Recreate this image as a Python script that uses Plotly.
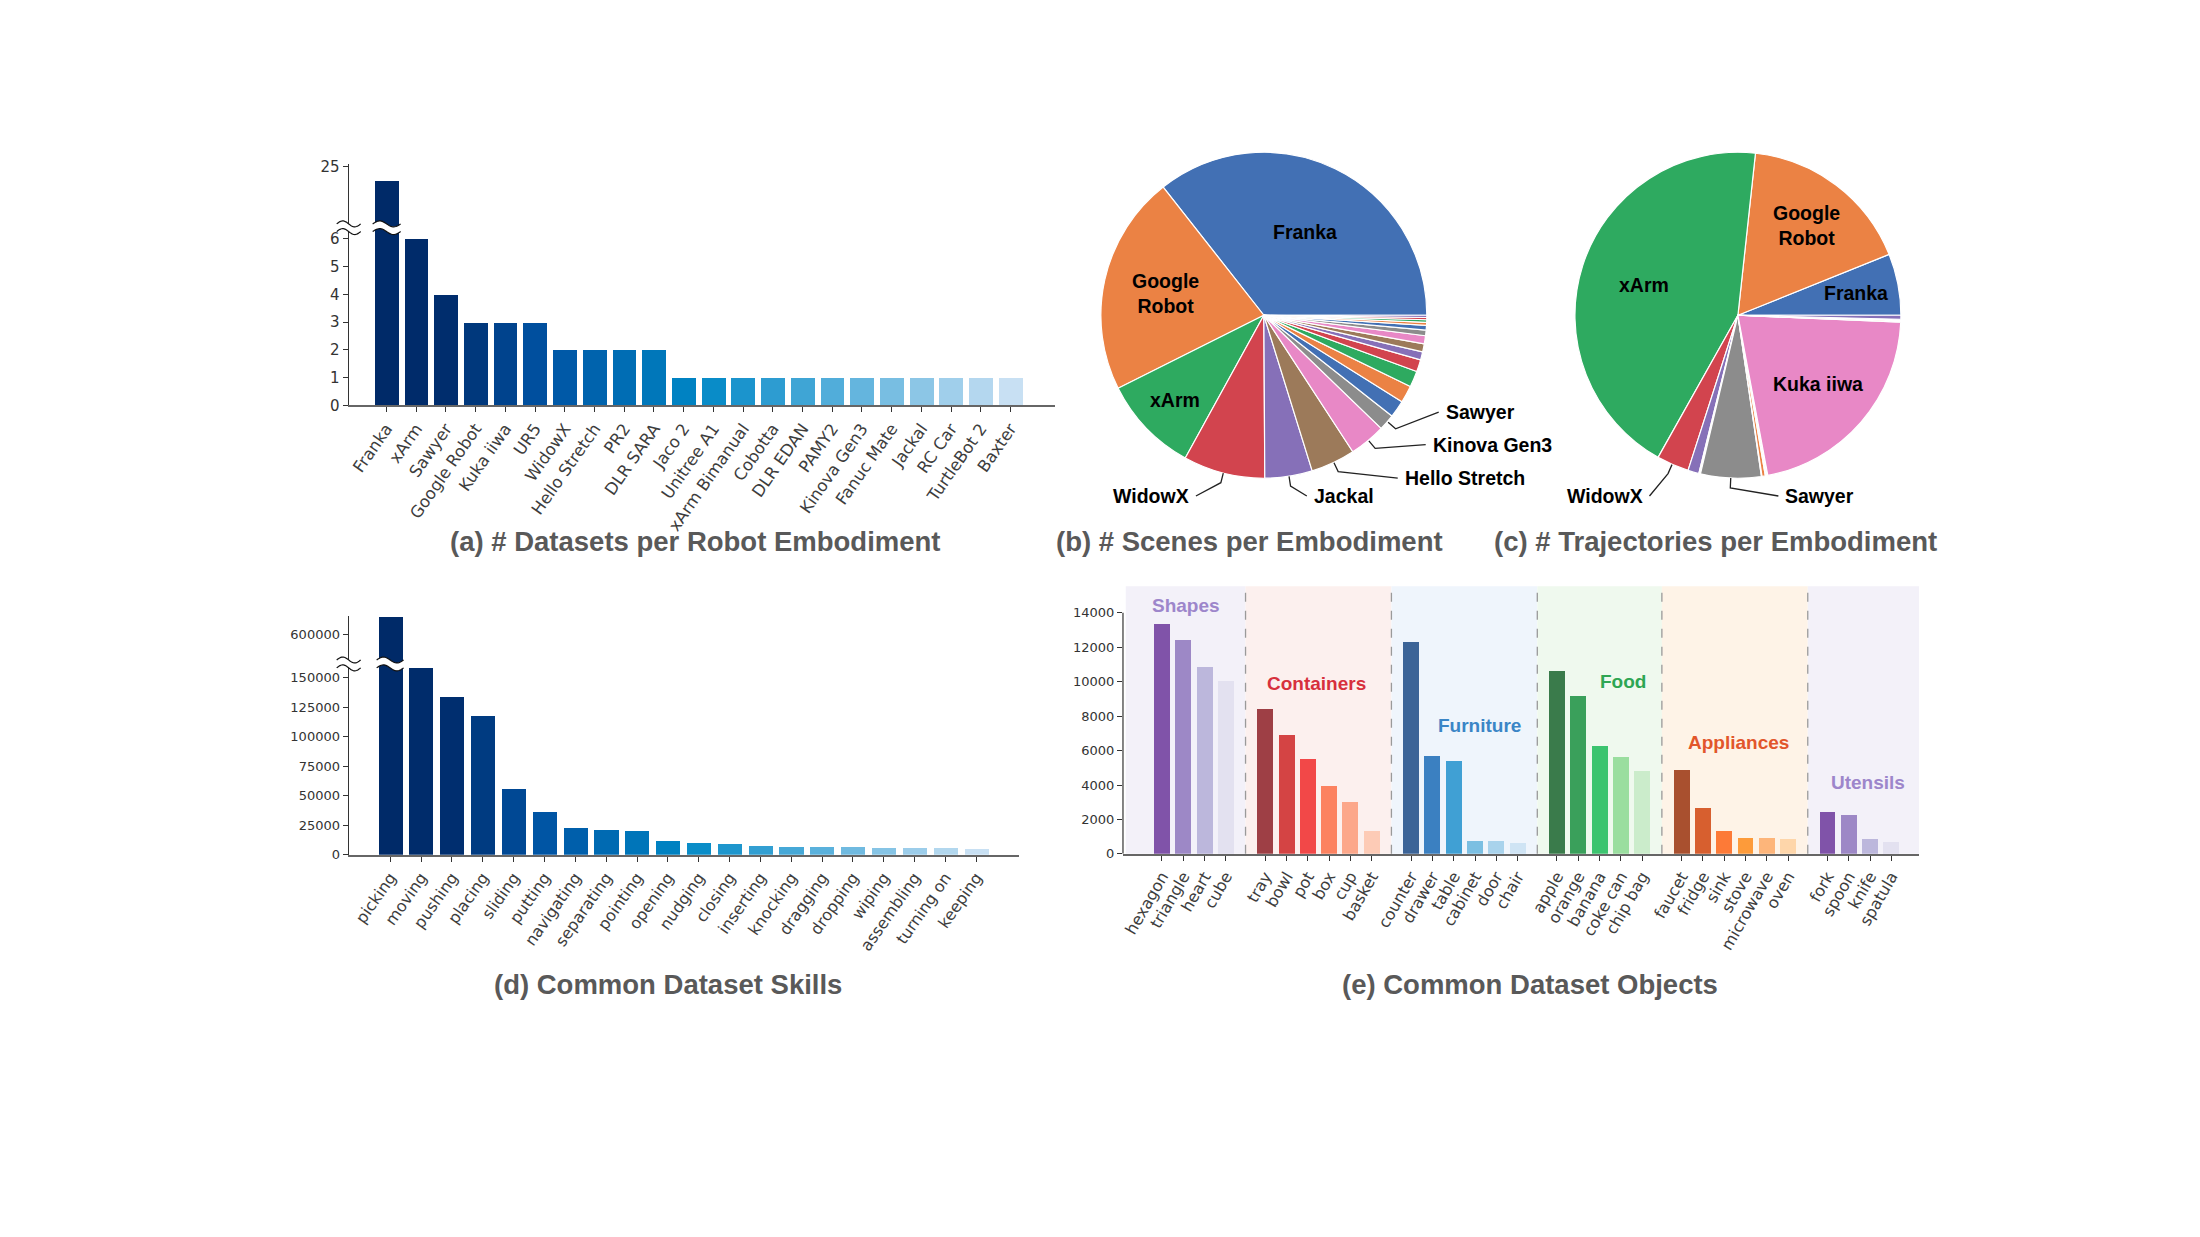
import numpy as np
import plotly.graph_objects as go

# target picture size, page body margin of the html page, figure size
W, H = 2200, 1237
OFF = 8
FW, FH = W - 2 * OFF, H - 2 * OFF

# ---------------------------------------------
# (a) number of datasets per robot embodiment
robots = ["Franka", "xArm", "Sawyer", "Google Robot", "Kuka iiwa", "UR5", "WidowX",
          "Hello Stretch", "PR2", "DLR SARA", "Jaco 2", "Unitree A1", "xArm Bimanual",
          "Cobotta", "DLR EDAN", "PAMY2", "Kinova Gen3", "Fanuc Mate", "Jackal",
          "RC Car", "TurtleBot 2", "Baxter"]
n_datasets = [24, 6, 4, 3, 3, 3, 2, 2, 2, 2, 1, 1, 1, 1, 1, 1, 1, 1, 1, 1, 1, 1]

# (b) scenes and (c) trajectories per embodiment, share in %, same order in both pies
pie_robots = ["Franka", "Google Robot", "xArm", "WidowX", "Jackal", "Hello Stretch",
              "Kinova Gen3", "Sawyer", "UR5", "PR2", "DLR SARA", "Jaco 2", "Unitree A1",
              "xArm Bimanual", "Kuka iiwa", "Cobotta", "DLR EDAN", "PAMY2", "Fanuc Mate",
              "RC Car", "TurtleBot 2"]
scene_share = [35.6, 21.8, 9.6, 8.1, 4.7, 4.4, 3.6, 1.6, 1.7, 1.7, 1.6, 1.2, 0.8,
               0.8, 0.8, 0.55, 0.47, 0.3, 0.25, 0.22, 0.22]
traj_share = [6.1, 17.2, 43.6, 3.2, 1.1, 0.08, 0.08, 6.0, 0.06, 0.33, 0.06, 0.06, 0.06,
              0.06, 21.4, 0.06, 0.06, 0.11, 0.03, 0.03, 0.39]

# (d) common skills
skills = ["picking", "moving", "pushing", "placing", "sliding", "putting", "navigating",
          "separating", "pointing", "opening", "nudging", "closing", "inserting",
          "knocking", "dragging", "dropping", "wiping", "assembling", "turning on", "keeping"]
skill_counts = [615000, 158000, 134000, 118000, 55800, 36500, 23100, 21500, 20000, 11700,
                10300, 9500, 7500, 6700, 6600, 6500, 5900, 5800, 5700, 5000]

# (e) common objects, by group
group_names = ["Shapes", "Containers", "Furniture", "Food", "Appliances", "Utensils"]
shape_objs = ["hexagon", "triangle", "heart", "cube"]
shape_counts = [13350, 12430, 10840, 10060]
container_objs = ["tray", "bowl", "pot", "box", "cup", "basket"]
container_counts = [8410, 6900, 5500, 3920, 3000, 1340]
furniture_objs = ["counter", "drawer", "table", "cabinet", "door", "chair"]
furniture_counts = [12280, 5680, 5370, 750, 750, 630]
food_objs = ["apple", "orange", "banana", "coke can", "chip bag"]
food_counts = [10600, 9180, 6270, 5620, 4780]
appliance_objs = ["faucet", "fridge", "sink", "stove", "microwave", "oven"]
appliance_counts = [4840, 2640, 1300, 920, 920, 860]
utensil_objs = ["fork", "spoon", "knife", "spatula"]
utensil_counts = [2450, 2220, 860, 670]

# ---------------------------------------------
# styles
BOLD = "Liberation Sans, Arial, sans-serif"
YTICK = dict(family="DejaVu Sans", size=13, color="#333333")
XTICK = dict(family="DejaVu Sans", size=16, color="#3d3d3d")
TITLE_COLOR = "#595959"

blues = [(0.0, "#002a68"), (0.1, "#002d6d"), (0.25, "#0052a2"), (0.45, "#007bbd"),
         (0.5, "#0088c6"), (0.75, "#5fb3dd"), (1.0, "#c8e0f3")]
pie_cycle = ["#4270b4", "#eb8244", "#2eaa60", "#d2444e", "#8670b8", "#9c7a5a",
             "#e888c6", "#8c8c8c"]
group_colors = [
    ["#8053a9", "#9d88c6", "#bcb7dc", "#e3e1f0"],
    ["#9e3f45", "#d44444", "#f24848", "#fc8260", "#fca78a", "#fdcbb6"],
    ["#3c6497", "#3b80c1", "#40a0d4", "#7bbfe2", "#a9d3ec", "#cfe4f4"],
    ["#3a7b4b", "#3aa05b", "#3cc46f", "#9ade9f", "#cbeccb"],
    ["#a9502f", "#d75f2f", "#fd7a37", "#fd9b3a", "#fdb57a", "#fed6aa"],
    ["#8053a9", "#9d88c6", "#bcb7dc", "#e3e1f0"],
]
group_bg = ["#f3f1f9", "#fcf0ee", "#eff5fc", "#eff9ee", "#fef3e7", "#f3f1f9"]
group_label_color = ["#9d86cb", "#d7303d", "#3a85c6", "#2ea653", "#e2562b", "#9d86cb"]
pie_text = {"Google Robot": "Google<br>Robot"}


def ramp(stops, n):
    pos = [s for s, _ in stops]
    rgb = np.array([[int(c[i:i + 2], 16) for i in (1, 3, 5)] for _, c in stops], float)
    t = np.linspace(0, 1, n)
    cols = np.stack([np.interp(t, pos, rgb[:, k]) for k in range(3)], axis=1)
    return [f"rgb({r:.0f},{g:.0f},{b:.0f})" for r, g, b in cols]


# window pixel -> paper coords
def px(x):
    return (x - OFF) / FW


def py(y):
    return 1 - (y - OFF) / FH


def paper(x, y):
    return px(x), py(y)


def pth(points, close=False):
    s = "M " + " L ".join("%.5f,%.5f" % paper(*pt) for pt in points)
    return s + (" Z" if close else "")


fig = go.Figure()
shapes = []
annotations = []

ax_common = dict(showgrid=False, zeroline=False, ticks="outside", ticklen=5,
                 tickwidth=1, tickcolor="#333333")
yline = dict(showline=True, linecolor="#333333", linewidth=1.2)
xline = dict(showline=True, linecolor="#666666", linewidth=2)


def label(x, y, text, font, xref="paper", yref="paper", xanchor="center"):
    annotations.append(dict(x=x, y=y, xref=xref, yref=yref, showarrow=False, text=text,
                            xanchor=xanchor, yanchor="middle", font=font))


# ---------------------------------------------
# (a) bar chart with broken y axis
col_a = ramp(blues, len(robots))
for xa, ya in (("x", "y"), ("x2", "y2")):
    fig.add_trace(go.Bar(x=robots, y=n_datasets, marker_color=col_a, marker_line_width=0,
                         width=0.8, xaxis=xa, yaxis=ya, hoverinfo="x+y"))

# (d) bar chart with broken y axis
col_d = ramp(blues, len(skills))
for xa, ya in (("x3", "y3"), ("x4", "y4")):
    fig.add_trace(go.Bar(x=skills, y=skill_counts, marker_color=col_d, marker_line_width=0,
                         width=0.78, xaxis=xa, yaxis=ya, hoverinfo="x+y"))

# (e) grouped object bars
groups = [(shape_objs, shape_counts), (container_objs, container_counts),
          (furniture_objs, furniture_counts), (food_objs, food_counts),
          (appliance_objs, appliance_counts), (utensil_objs, utensil_counts)]
GAP = 1.85
start = 0.0
all_x, all_lbl, group_x = [], [], []
for gi, (objs, counts) in enumerate(groups):
    gx = [start + j for j in range(len(objs))]
    group_x.append(gx)
    all_x += gx
    all_lbl += objs
    fig.add_trace(go.Bar(x=gx, y=counts, text=objs, marker_color=group_colors[gi],
                         marker_line_width=0, width=0.75, xaxis="x5", yaxis="y5",
                         hovertemplate="%{text}: %{y}<extra></extra>", textposition="none"))
    start = gx[-1] + GAP

E_RANGE = [-1.83, 35.56]
seps = [(group_x[i][-1] + group_x[i + 1][0]) / 2 for i in range(len(groups) - 1)]
edges = [-1.7] + seps + [E_RANGE[1]]
for gi in range(len(groups)):
    shapes.append(dict(type="rect", xref="x5", yref="y5 domain", x0=edges[gi], x1=edges[gi + 1],
                       y0=0, y1=1, fillcolor=group_bg[gi], line_width=0, layer="below"))
for s in seps:
    shapes.append(dict(type="line", xref="x5", yref="y5 domain", x0=s, x1=s, y0=0, y1=1,
                       line=dict(color="#9a9a9a", width=1.3, dash="dash")))
shapes.append(dict(type="line", xref="x5 domain", yref="y5", x0=0, x1=0, y0=0, y1=14000,
                   line=dict(color="#333333", width=1.2)))

group_label_pos = [(1.13, 14400), (7.28, 9900), (14.9, 7480), (21.67, 10040),
                   (27.06, 6460), (33.17, 4130)]
for gi, (gxp, gyp) in enumerate(group_label_pos):
    label(gxp, gyp, f"<b>{group_names[gi]}</b>",
          dict(family=BOLD, size=19, color=group_label_color[gi]), xref="x5", yref="y5")

# ---------------------------------------------
# (b), (c) pies
PIE_R = 165
pie_colors = [pie_cycle[i % len(pie_cycle)] for i in range(len(pie_robots))]
pies = [
    dict(vals=scene_share, cx=1263, cy=313,
         inside=[("Franka", 0.57), ("Google Robot", 0.61), ("xArm", 0.75)],
         outside=[("WidowX", 1190, 496, "right"), ("Jackal", 1311, 496, "left"),
                  ("Hello Stretch", 1402, 478, "left"), ("Kinova Gen3", 1430, 444, "left"),
                  ("Sawyer", 1443, 411, "left")]),
    dict(vals=traj_share, cx=1737.5, cy=313,
         inside=[("xArm", 0.6), ("Google Robot", 0.69), ("Franka", 0.73), ("Kuka iiwa", 0.64)],
         outside=[("WidowX", 1644, 496, "right"), ("Sawyer", 1783, 496, "left")]),
]
for p in pies:
    cx, cy = p["cx"], p["cy"]
    v = np.asarray(p["vals"], float)
    frac = v / v.sum()
    # counterclockwise pies: plotly puts the end of the first slice at `rotation`,
    # so shift it to make the first slice start at 3 o'clock
    rot = 90 - 360 * frac[0]
    fig.add_trace(go.Pie(labels=pie_robots, values=p["vals"], sort=False,
                         direction="counterclockwise", rotation=rot, textinfo="none",
                         marker=dict(colors=pie_colors, line=dict(color="white", width=1.2)),
                         domain=dict(x=[px(cx - PIE_R), px(cx + PIE_R)],
                                     y=[py(cy + PIE_R), py(cy - PIE_R)]),
                         hoverinfo="label+percent"))
    cum = np.cumsum(frac) * 360
    mids = cum - frac * 180
    mid_of = dict(zip(pie_robots, mids))

    for name, rf in p["inside"]:
        a = np.radians(mid_of[name])
        lx, ly = paper(cx + rf * PIE_R * np.cos(a), cy - rf * PIE_R * np.sin(a))
        label(lx, ly, "<b>" + pie_text.get(name, name) + "</b>",
              dict(family=BOLD, size=19.5, color="black"))
    for name, tx, ty, anchor in p["outside"]:
        a = np.radians(mid_of[name])
        p0 = (cx + PIE_R * np.cos(a), cy - PIE_R * np.sin(a))
        p1 = (cx + 1.06 * PIE_R * np.cos(a), cy - 1.06 * PIE_R * np.sin(a))
        p2 = (tx + (5 if anchor == "right" else -5), ty)
        shapes.append(dict(type="path", xref="paper", yref="paper", path=pth([p0, p1, p2]),
                           line=dict(color="#222222", width=1.3)))
        label(px(tx), py(ty), f"<b>{name}</b>", dict(family=BOLD, size=19.5, color="black"),
              xanchor=anchor)


# ---------------------------------------------
# axis break marks
def wave(x0, x1, yc, amp=3.0, n=30):
    xs = np.linspace(x0, x1, n)
    ys = yc - amp * np.sin(2 * np.pi * (xs - x0) / (x1 - x0))
    return list(zip(xs, ys))


def add_break(y_top, y_bot, segments):
    for sx0, sx1 in segments:
        up = wave(sx0, sx1, y_top)
        lo = wave(sx0, sx1, y_bot)
        shapes.append(dict(type="path", xref="paper", yref="paper", path=pth(up + lo[::-1], True),
                           fillcolor="white", line_width=0))
        for w in (up, lo):
            shapes.append(dict(type="path", xref="paper", yref="paper", path=pth(w),
                               line=dict(color="#111111", width=1.2)))


add_break(220.5, 228.3, [(335, 359), (371, 399)])
add_break(662, 670, [(335, 359), (375, 402)])

# ---------------------------------------------
# panel titles
titles = [("(a) # Datasets per Robot Embodiment", 694.5, 541.6),
          ("(b) # Scenes per Embodiment", 1248.8, 541.6),
          ("(c) # Trajectories per Embodiment", 1714.6, 541.6),
          ("(d) Common Dataset Skills", 666.5, 991),
          ("(e) Common Dataset Objects", 1529.4, 991)]
for txt, tx, ty in titles:
    label(px(tx), py(ty), f"<b>{txt}</b>", dict(family=BOLD, size=27.5, color=TITLE_COLOR))

fig.update_layout(
    width=FW, height=FH, margin=dict(l=0, r=0, t=0, b=0),
    paper_bgcolor="white", plot_bgcolor="rgba(0,0,0,0)", showlegend=False,
    bargap=0,
    # (a)
    xaxis=dict(domain=[px(347), px(1054)], range=[-1.27, 22.5], anchor="y", type="category",
               tickangle=-55, tickfont=dict(XTICK, size=16.5), **xline, **ax_common),
    yaxis=dict(domain=[py(404.3), py(225.3)], range=[0, 6.37], dtick=1, anchor="x",
               tickfont=dict(YTICK, size=15), **yline, **ax_common),
    xaxis2=dict(domain=[px(347), px(1054)], matches="x", anchor="y2", visible=False),
    yaxis2=dict(domain=[py(223.5), py(160)], range=[20.84, 25.18], tickvals=[25],
                anchor="x2", tickfont=dict(YTICK, size=15), **yline, **ax_common),
    # (d)
    xaxis3=dict(domain=[px(347), px(1017.7)], range=[-1.35, 20.38], anchor="y3",
                type="category", tickangle=-55, tickfont=XTICK, **xline, **ax_common),
    yaxis3=dict(domain=[py(859.3), py(667)], range=[0, 160900],
                tickvals=[0, 25000, 50000, 75000, 100000, 125000, 150000], tickformat="d",
                anchor="x3", tickfont=YTICK, **yline, **ax_common),
    xaxis4=dict(domain=[px(347), px(1017.7)], matches="x3", anchor="y4", visible=False),
    yaxis4=dict(domain=[py(665), py(617.3)], range=[575738, 615644],
                tickvals=[600000], tickformat="d", anchor="x4", tickfont=YTICK,
                **yline, **ax_common),
    # (e)
    xaxis5=dict(domain=[px(1122), px(1919)], range=E_RANGE, anchor="y5",
                tickvals=all_x, ticktext=all_lbl, tickangle=-60,
                tickfont=XTICK, **xline, **ax_common),
    yaxis5=dict(domain=[py(858.3), py(587.3)], range=[0, 15550],
                tickvals=list(range(0, 14001, 2000)), tickformat="d", anchor="x5",
                tickfont=YTICK, showline=False, **ax_common),
    shapes=shapes,
    annotations=annotations,
)

fig.write_html("out.html")
